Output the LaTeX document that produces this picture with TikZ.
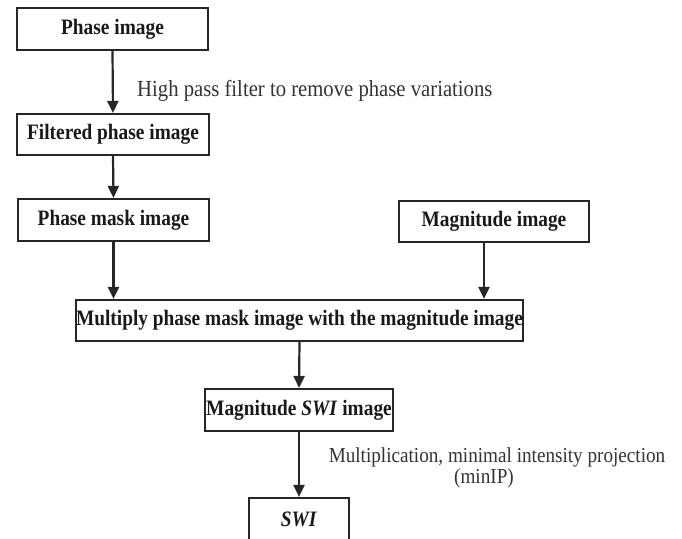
\documentclass[tikz,border=0pt]{standalone}
\usepackage{fontspec}
\setmainfont{Liberation Serif}
\usetikzlibrary{arrows.meta}
\newcommand{\bxt}[1]{\scalebox{0.88}[1]{#1}}
\newcommand{\lbt}[1]{\scalebox{0.9}[1]{#1}}
\begin{document}
\begin{tikzpicture}[x=1pt,y=-1pt,
  box/.style={draw=black!85,line width=2.2pt,rectangle,inner sep=0pt,
    font=\fontsize{22}{24}\selectfont\bfseries,text=black!90},
  arr/.style={draw=black!85,line width=2.2pt,-{Triangle[length=12pt,width=11pt]}},
  lbl/.style={inner sep=0pt,text=black!80}]
\useasboundingbox (0,0) rectangle (682,538);
\clip (0,0) rectangle (682,538);
\node[box,minimum width=191pt,minimum height=42pt] (phase) at (112.5,29) {\bxt{Phase image}};
\node[box,minimum width=192pt,minimum height=41pt] (filt) at (113,134.5) {\bxt{Filtered phase image}};
\node[box,minimum width=191pt,minimum height=42pt] (mask) at (113.5,220) {\bxt{Phase mask image}};
\node[box,minimum width=190pt,minimum height=41pt] (magn) at (494,221.5) {\bxt{Magnitude image}};
\node[box,minimum width=439pt,minimum height=41pt] (mult) at (299.5,320.5) {\bxt{Multiply phase mask image with the magnitude image}};
\node[box,minimum width=188pt,minimum height=42pt] (mswi) at (299,410) {\bxt{Magnitude \textit{SWI} image}};
\node[box,minimum width=100pt,minimum height=44pt] (swi) at (299,520) {\raisebox{2pt}{\bxt{\textit{SWI}}}};
\node[lbl,anchor=west,font=\fontsize{23}{25}\selectfont] (hp) at (137,91) {\lbt{High pass filter to remove phase variations}};
\node[lbl,font=\fontsize{21.3}{23}\selectfont] (mi1) at (497,457) {\lbt{Multiplication, minimal intensity projection}};
\node[lbl,font=\fontsize{21.3}{23}\selectfont] (mi2) at (484,478) {\lbt{(minIP)}};
\draw[arr] (phase.south) -- (filt.north);
\draw[arr] (filt.south) -- (mask.north);
\draw[arr] (mask.south) -- (mask.south |- mult.north);
\draw[arr] ([xshift=-10pt]magn.south) -- ([xshift=-10pt]magn.south |- mult.north);
\draw[arr] (mult.south) -- (mswi.north);
\draw[arr] (mswi.south) -- (swi.north);
\end{tikzpicture}
\end{document}
